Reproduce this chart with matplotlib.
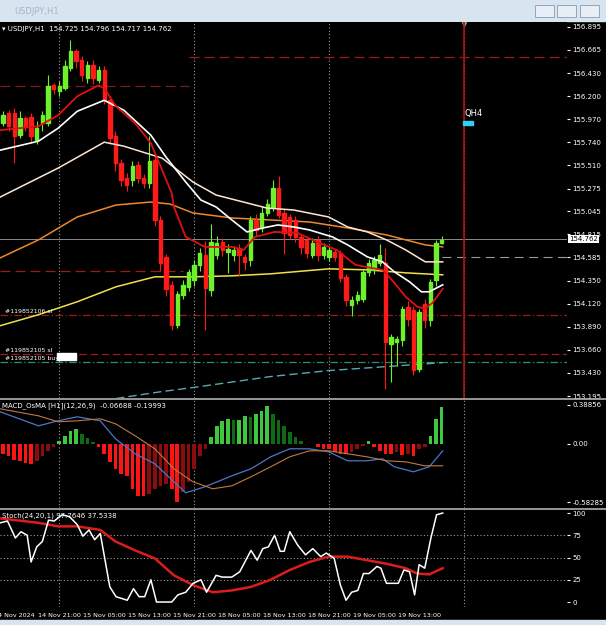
import matplotlib
matplotlib.use("Agg")
import matplotlib.pyplot as plt
from matplotlib.patches import Rectangle
from matplotlib.lines import Line2D

# ---------------- data ----------------
opens  = [155.93,156.03,156.03,155.81,155.98,155.99,155.76,155.93,155.93,156.31,
          156.25,156.28,156.48,156.65,156.56,156.38,156.51,156.36,156.46,156.16,
          155.80,155.53,155.38,155.36,155.51,155.38,155.33,155.56,154.96,154.59,
          154.31,153.91,154.21,154.29,154.36,154.51,154.61,154.26,154.61,154.74,
          154.64,154.61,154.68,154.59,154.56,154.96,154.88,155.03,155.09,155.28,
          155.03,154.99,154.96,154.79,154.76,154.61,154.76,154.61,154.59,154.64,
          154.63,154.39,154.11,154.16,154.17,154.44,154.46,154.53,154.53,153.72,
          153.74,153.76,154.09,154.06,153.47,154.12,153.96,154.36,154.73]
closes = [156.01,155.90,155.80,155.98,155.90,155.80,155.88,156.01,156.30,156.27,
          156.30,156.50,156.65,156.55,156.41,156.51,156.38,156.46,156.16,155.78,
          155.53,155.36,155.31,155.50,155.38,155.33,155.55,154.96,154.53,154.27,
          153.91,154.22,154.31,154.44,154.51,154.63,154.28,154.74,154.73,154.66,
          154.67,154.66,154.61,154.54,154.96,154.86,155.03,155.12,155.28,155.01,
          154.83,154.81,154.79,154.69,154.63,154.73,154.61,154.69,154.66,154.59,
          154.38,154.16,154.16,154.21,154.44,154.53,154.56,154.61,153.74,153.79,
          153.77,154.07,153.97,153.46,154.04,153.96,154.34,154.73,154.76]
highs  = [156.05,156.06,156.08,156.05,156.00,156.03,155.95,156.05,156.41,156.33,
          156.35,156.56,156.76,156.67,156.60,156.55,156.56,156.50,156.50,156.20,
          155.85,155.57,155.43,155.55,155.55,155.42,155.80,155.60,155.00,154.62,
          154.35,154.25,154.36,154.47,154.56,154.68,154.75,154.92,154.80,154.78,
          154.72,154.70,154.72,154.62,155.00,155.02,155.10,155.17,155.36,155.40,
          155.07,155.02,155.00,154.82,154.79,154.78,154.80,154.73,154.70,154.67,
          154.66,154.42,154.20,154.25,154.47,154.57,154.60,154.72,154.68,153.82,
          153.80,154.10,154.15,154.10,154.07,154.17,154.37,154.76,154.80]
lows   = [155.90,155.85,155.53,155.78,155.85,155.73,155.72,155.85,155.90,156.22,
          156.20,156.26,156.45,156.48,156.35,156.33,156.32,156.33,156.12,155.72,
          155.45,155.30,155.25,155.30,155.33,155.28,155.28,154.90,154.45,154.20,
          153.86,153.88,154.17,154.25,154.30,154.45,153.86,154.20,154.57,154.60,
          154.43,154.55,154.40,154.46,154.50,154.80,154.84,155.00,155.05,154.98,
          154.62,154.77,154.74,154.62,154.58,154.58,154.55,154.57,154.55,154.55,
          154.34,154.10,154.00,154.12,154.14,154.40,154.42,154.50,153.27,153.34,
          153.50,153.70,153.90,153.41,153.44,153.88,153.90,154.30,154.72]

ma_red_x = [-0.5,6.3,9.8,13.2,17,18,20.1,23.5,26.3,30,30.4,32.5,35.9,40.7,42.8,44.8,48.3,52.4,55.8,59.3,62.7,65.4,67.5,69.6,71.6,73.7,75,76.4,78.2]
ma_red_y = [155.86,155.90,156.01,156.20,156.31,156.28,156.10,155.93,155.73,155.23,155.09,154.79,154.69,154.69,154.66,154.79,154.84,154.83,154.74,154.66,154.51,154.48,154.46,154.33,154.19,154.09,154.07,154.13,154.27]
ma_white_x = [-0.5,6.3,9.8,13.2,18,21.5,26.3,29,32.5,35.2,37.9,40.7,43.4,46.2,48.9,51.7,54.5,58.6,61.3,64.8,67.5,69.6,72.3,74.4,75.8,78.2]
ma_white_y = [155.66,155.75,155.88,156.05,156.16,156.06,155.81,155.59,155.34,155.16,155.09,154.96,154.84,154.88,154.91,154.89,154.86,154.79,154.71,154.59,154.54,154.44,154.34,154.24,154.24,154.31]
ma_pink_x = [-0.5,9.8,18,21.5,28.3,33.8,37.9,46.9,51.7,57.9,61.3,64.8,68.2,71.6,75.1,78.2]
ma_pink_y = [155.19,155.48,155.74,155.70,155.58,155.34,155.21,155.08,155.06,154.99,154.89,154.84,154.76,154.66,154.54,154.54]
ma_orange_x = [-0.5,6.3,13.2,20.1,26.3,29.7,33.8,40.7,47.6,54.5,61.3,68.2,75.1,78.2]
ma_orange_y = [154.58,154.76,154.99,155.11,155.14,155.12,155.03,154.98,154.96,154.94,154.88,154.81,154.71,154.69]
ma_yellow_x = [-0.5,6.3,13.2,20.1,27,33.8,40.7,47.6,57.9,64.8,71.6,78.2]
ma_yellow_y = [153.90,154.01,154.14,154.29,154.39,154.39,154.40,154.42,154.47,154.46,154.43,154.41]
ma_cyan_x = [20.1,28.3,33.8,47.6,57.9,68.2,78.2]
ma_cyan_y = [153.17,153.24,153.28,153.39,153.45,153.49,153.53]

osma = [-0.10,-0.12,-0.16,-0.17,-0.19,-0.20,-0.17,-0.12,-0.07,-0.03,
        0.03,0.08,0.13,0.15,0.10,0.06,0.02,
        -0.03,-0.10,-0.18,-0.25,-0.30,-0.32,-0.45,-0.52,-0.52,-0.50,
        -0.45,-0.42,-0.40,-0.45,-0.58,-0.48,-0.38,-0.25,-0.12,-0.05,
        0.07,0.18,0.23,0.25,0.24,0.24,0.28,0.27,0.30,0.33,0.38,0.30,0.24,0.18,0.12,0.07,0.03,
        0.0,0.0,-0.03,-0.05,-0.05,-0.08,-0.10,-0.10,-0.08,-0.05,-0.02,0.03,-0.03,-0.07,-0.10,
        -0.10,-0.08,-0.11,-0.10,-0.12,-0.05,-0.03,0.08,0.25,0.37]
macd_x = [-0.5,6.3,9.8,13.2,17.3,20,23.5,27,30.4,32.5,35.9,40.7,44.1,47.6,51,54.5,57.9,61.3,64.7,67.5,69.6,73,75.8,78.2]
macd_y = [0.32,0.18,0.23,0.27,0.23,0.05,-0.10,-0.20,-0.38,-0.49,-0.43,-0.32,-0.25,-0.13,-0.05,-0.05,-0.08,-0.17,-0.17,-0.15,-0.23,-0.28,-0.23,-0.07]
sig_x = [-0.5,6.3,9.8,13.2,17.3,20,23.5,27,30.4,33.8,37.3,40.7,44.1,47.6,51,54.5,57.9,61.3,64.7,68.2,71.6,75,78.2]
sig_y = [0.35,0.28,0.22,0.23,0.25,0.20,0.08,-0.05,-0.25,-0.38,-0.45,-0.42,-0.33,-0.23,-0.13,-0.07,-0.07,-0.10,-0.13,-0.17,-0.18,-0.22,-0.22]

st_x = [-0.5,0.8,2.2,3.2,4.3,5,6,7,8.1,9.1,10.5,11.8,13.2,14.2,15.3,16.3,17.3,19,20.1,22.1,23.2,24.2,25.2,26.3,27.3,29,30,31.1,32.5,33.8,35.2,36.2,37.9,39,40.7,42.1,44.1,45.2,46.2,47.2,48.3,49.3,50,51,52.4,53.8,55.1,56.5,57.5,58.9,60,61,62,63.1,64.1,65.1,66.5,67.2,68.2,70.3,71.3,72.3,73.2,74,75,76.1,77.1,78.2]
st_y = [89,91,72,79,75,45,62,68,92,91,98,96,87,74,81,70,77,17,6,2,15,6,6,25,0,0,0,8,11,21,25,11,30,28,28,34,58,47,60,62,75,57,57,79,64,53,60,51,55,49,19,2,11,13,32,32,40,38,21,21,36,34,8,42,38,72,98,100]
st_sig_x = [-0.5,6.3,9.8,13.2,17.3,20,23.5,27,30.4,33.8,37.3,40.7,44.1,47.6,51,54.5,57.9,61.3,64.7,68.2,71.6,73.7,75.8,78.2]
st_sig_y = [94,89,85,85,81,68,58,49,30,19,11,13,17,25,36,45,51,51,47,43,38,32,31,38]

price_ticks = [156.895,156.665,156.430,156.200,155.970,155.740,155.510,155.275,155.045,154.815,154.585,154.350,154.120,153.890,153.660,153.430,153.195]
time_pos = [2,10,18,26,34,42,50,58,66,74]
time_labels = ["14 Nov 2024","14 Nov 21:00","15 Nov 05:00","15 Nov 13:00","15 Nov 21:00",
               "18 Nov 05:00","18 Nov 13:00","18 Nov 21:00","19 Nov 05:00","19 Nov 13:00"]

# ---------------- layout ----------------
W, H = 606, 625
fig = plt.figure(figsize=(W/100, H/100), dpi=100, facecolor="black")
def frac(x0, y0, x1, y1):
    return [x0/W, 1-y1/H, (x1-x0)/W, (y1-y0)/H]

XL = (-0.533, 100.3)
FS = 5
GRIDK = [10, 34, 58, 82]

# title bar
fig.add_artist(Rectangle((0, 1-21/H), 1, 21/H, transform=fig.transFigure, color="#d9e4f1", zorder=0))
fig.text(14/W, 1-11/H, "USDJPY,H1", color="#a8b4c4", fontsize=6, va="center")
for bx in [535, 557, 580]:
    fig.add_artist(Rectangle((bx/W, 1-17/H), 19/W, 12/H, transform=fig.transFigure,
                             facecolor="#e8eef6", edgecolor="#8a9ab0", lw=0.6))
fig.add_artist(Rectangle((0, 0), 1, 5/H, transform=fig.transFigure, color="#d9e4f1"))

def style(ax):
    ax.set_facecolor("black")
    for s in ax.spines.values():
        s.set_visible(False)
    ax.set_xlim(*XL)
    ax.tick_params(axis="x", bottom=False, labelbottom=False)
    ax.yaxis.tick_right()
    ax.tick_params(axis="y", colors="white", labelsize=FS, length=2, pad=2)
    for k in GRIDK:
        ax.axvline(k, color="#9a9a9a", ls=(0, (1, 2)), lw=0.8, zorder=1)

# main
ax = fig.add_axes(frac(0, 22, 567, 398))
style(ax)
ax.set_ylim(153.175, 156.945)
ax.set_yticks(price_ticks)
ax.set_yticklabels([f"{p:.3f}" for p in price_ticks])

ax.hlines(156.30, XL[0], 33, color="#7a1c1c", ls=(0, (8, 4)), lw=0.9)
ax.hlines(156.59, 33, XL[1], color="#a01818", ls=(0, (8, 4)), lw=0.9)
ax.hlines(154.45, XL[0], 32, color="#a01818", ls=(0, (8, 4)), lw=0.9)
ax.hlines(154.59, 78, XL[1], color="#9a9a9a", ls=(0, (8, 5)), lw=0.8)
ax.axhline(154.77, color="#8a8a8a", lw=0.7)
ax.axhline(154.01, color="#a01818", ls=(0, (6, 2, 1, 2)), lw=0.9)
ax.axhline(153.62, color="#a01818", ls=(0, (6, 3)), lw=0.9)
ax.axhline(153.54, color="#3a8a6a", ls=(0, (6, 2, 1, 2)), lw=0.9)

ax.plot(ma_cyan_x, ma_cyan_y, color="#5aa8b0", ls=(0, (6, 3)), lw=1.0, zorder=2)
ax.plot(ma_yellow_x, ma_yellow_y, color="#f2e04a", lw=1.1, zorder=2)
ax.plot(ma_orange_x, ma_orange_y, color="#f0882a", lw=1.1, zorder=2)

for k in range(len(closes)):
    o, c, h, l = opens[k], closes[k], highs[k], lows[k]
    col = "#6ef02a" if c >= o else "#ff1a1a"
    ax.vlines(k, l, h, color=col, lw=0.8, zorder=3)
    ax.add_patch(Rectangle((k-0.3, min(o, c)), 0.6, max(abs(c-o), 0.01), color=col, zorder=3))

ax.plot(ma_pink_x, ma_pink_y, color="#ffe6d2", lw=1.1, zorder=4)
ax.plot(ma_white_x, ma_white_y, color="#ffffff", lw=1.2, zorder=4)
ax.plot(ma_red_x, ma_red_y, color="#e01010", lw=1.3, zorder=4)

ax.axvline(82, color="#b01010", lw=1.2, zorder=5)
ax.text(82, 155.98, "QH4", color="white", fontsize=6, ha="left", va="bottom")
ax.add_patch(Rectangle((81.8, 155.91), 1.8, 0.04, color="#30d0f0", zorder=6))
ax.plot([82], [156.92], marker="v", color="#909090", ms=3)

ax.text(0.004, 0.99, "▾ USDJPY,H1  154.725 154.796 154.717 154.762", transform=ax.transAxes,
        color="white", fontsize=FS, va="top")
ax.text(0.3, 154.02, "#119852106 sl", color="white", fontsize=FS-0.5, va="bottom")
ax.text(0.3, 153.63, "#119852105 sl", color="white", fontsize=FS-0.5, va="bottom")
ax.text(0.3, 153.55, "#119852105 buy", color="white", fontsize=FS-0.5, va="bottom")
ax.add_patch(Rectangle((9.6, 153.555), 3.3, 0.07, color="white", zorder=6))
fig.text(569/W, 1-239/H, "154.762", fontsize=FS, color="black", va="center", zorder=10,
         bbox=dict(facecolor="white", edgecolor="none", pad=0.8))

# MACD
ax2 = fig.add_axes(frac(0, 400, 567, 508))
style(ax2)
ax2.set_ylim(-0.642, 0.438)
ax2.set_yticks([0.38856, 0.0, -0.58285])
ax2.set_yticklabels(["0.38856", "0.00", "-0.58285"])
cols = []
for i, v in enumerate(osma):
    prev = osma[i-1] if i > 0 else v
    bright = abs(v) >= abs(prev)
    if v >= 0:
        cols.append("#3ec83e" if bright else "#0e6a14")
    else:
        cols.append("#ff1414" if bright else "#8a0c0c")
ax2.bar(range(len(osma)), osma, width=0.65, color=cols, zorder=2)
ax2.plot(macd_x, macd_y, color="#4a78c8", lw=0.9, zorder=3)
ax2.plot(sig_x, sig_y, color="#c07a40", lw=0.8, zorder=3)
ax2.text(0.004, 0.98, "MACD_OsMA [H1](12,26,9)  -0.06688 -0.19993", transform=ax2.transAxes,
         color="white", fontsize=FS, va="top")

# Stoch
ax3 = fig.add_axes(frac(0, 510, 567, 607))
style(ax3)
ax3.set_ylim(-5.6, 103.4)
ax3.set_yticks([100, 75, 50, 25, 0])
for lv in [25, 50, 75]:
    ax3.axhline(lv, color="#9a9a9a", ls=(0, (1, 2)), lw=0.8, zorder=1)
ax3.plot(st_sig_x, st_sig_y, color="#dd1c1c", lw=1.8, zorder=2)
ax3.plot(st_x, st_y, color="white", lw=1.1, zorder=3)
ax3.text(0.004, 0.97, "Stoch(24,20,1) 97.7646 37.5338", transform=ax3.transAxes,
         color="white", fontsize=FS, va="top")
ax3.set_xticks(time_pos)
ax3.set_xticklabels(time_labels)
ax3.tick_params(axis="x", bottom=True, labelbottom=True, colors="white", labelsize=4.6, length=0, pad=4)

for yy in [399, 509]:
    fig.add_artist(Line2D([0, 1], [1-yy/H, 1-yy/H], transform=fig.transFigure, color="#b0b0b0", lw=1.2))

fig.savefig("out.png", dpi=100, facecolor="black")
